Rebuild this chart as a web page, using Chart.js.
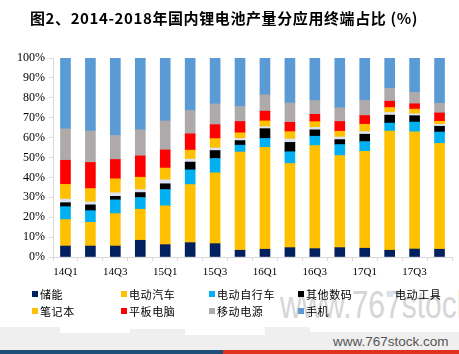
<!DOCTYPE html>
<html>
<head>
<meta charset="utf-8">
<script src="https://cdn.jsdelivr.net/npm/chart.js@4.4.0/dist/chart.umd.min.js"></script>
<style>
  html,body{margin:0;padding:0;background:#fff;}
  #wrap{position:relative;width:459px;height:354px;overflow:hidden;background:#fff;}
  #c{position:absolute;left:0;top:0;z-index:2;}
  #title{position:absolute;left:30px;top:7px;line-height:20px;font:bold 15px "Noto Sans CJK SC",sans-serif;letter-spacing:0.6px;color:#000;z-index:3;white-space:nowrap;}
  #legend{position:absolute;left:0;top:287px;z-index:3;}
  .li{position:absolute;font:11px "Noto Sans CJK SC",sans-serif;letter-spacing:0.6px;color:#000;white-space:nowrap;line-height:14px;}
  .li span.sq{position:absolute;left:0;top:4px;width:6px;height:6px;}
  .li span.tx{position:absolute;left:8px;top:0;}
  #wm{position:absolute;left:280px;top:285px;font:30px "Liberation Sans",Arial,sans-serif;line-height:30px;color:#d6d6d6;z-index:1;white-space:nowrap;transform:scaleY(1.3);transform-origin:0 0;}
  #sky{position:absolute;left:0;top:327px;width:459px;height:23px;z-index:0;}
  #sky div{position:absolute;background:#efefef;}
  #small{position:absolute;left:333px;top:334px;font:13.5px "Liberation Sans",Arial,sans-serif;line-height:16px;color:#555;z-index:1;white-space:nowrap;}
  #barL{position:absolute;left:0;top:350px;width:223px;height:4px;background:#1f4e79;z-index:4;}
  #barR{position:absolute;left:223px;top:350px;width:236px;height:4px;background:#e0301e;z-index:4;}
</style>
</head>
<body>
<div id="wrap">
  <div id="sky">
    <div style="left:0;top:0;width:60px;height:23px"></div>
    <div style="left:60px;top:6px;width:70px;height:17px"></div>
    <div style="left:130px;top:2px;width:55px;height:21px"></div>
    <div style="left:185px;top:8px;width:80px;height:15px"></div>
    <div style="left:265px;top:0;width:45px;height:23px"></div>
    <div style="left:310px;top:5px;width:149px;height:18px"></div>
  </div>
  <div id="wm">www.767stock</div>
  <div id="small">www.767stock.com</div>
  <canvas id="c" width="459" height="354"></canvas>
  <div id="title">图2、2014-2018年国内锂电池产量分应用终端占比 (%)</div>
  <div id="legend"></div>
  <div id="barL"></div>
  <div id="barR"></div>
</div>
<script>
const categories = ['14Q1','14Q2','14Q3','14Q4','15Q1','15Q2','15Q3','15Q4','16Q1','16Q2','16Q3','16Q4','17Q1','17Q2','17Q3','17Q4'];
const yTicks = [0,10,20,30,40,50,60,70,80,90,100];

const seriesNames = ['储能','电动汽车','电动自行车','其他数码','电动工具','笔记本','平板电脑','移动电源','手机'];
const seriesColors = ['#002060','#FFC000','#00B0F0','#000000','#DAE3F3','#FFC000','#FF0000','#AEAAAA','#5B9BD5'];

const chuneng    = [5.5,5.5,5.5,8.4,6.2,7.2,6.7,3.4,3.9,4.7,4.2,4.7,4.4,3.4,4.0,3.9];
const qiche      = [13.3,11.9,16.3,15.6,19.5,29.2,35.6,49.3,51.2,42.3,51.8,46.3,48.7,59.9,58.9,53.2];
const zixingche  = [6.5,5.9,6.9,5.9,8.2,7.4,7.2,3.5,4.5,5.9,4.7,5.5,4.9,4.0,4.9,5.7];
const qitashuma  = [2.0,2.9,1.8,2.5,2.9,3.9,4.0,2.3,4.9,4.7,3.2,2.5,3.7,4.0,3.2,2.9];
const gongju     = [1.8,1.5,1.8,1.5,2.0,1.5,1.3,1.0,1.0,1.7,1.2,1.3,1.3,1.3,1.0,1.0];
const bijiben    = [7.4,6.7,7.0,6.2,5.9,4.5,4.7,2.9,2.9,3.7,2.9,2.9,3.7,2.5,2.3,1.5];
const pingban    = [12.1,13.1,9.7,10.7,9.1,8.2,7.0,5.7,4.9,4.7,3.7,4.9,4.4,3.2,2.7,4.2];
const yidong     = [15.8,15.8,12.1,13.1,14.6,11.7,10.4,7.6,8.2,9.7,6.9,6.9,7.6,6.4,5.7,4.9];
const shouji     = [35.6,36.7,38.8,36.1,31.7,26.3,23.0,24.3,18.6,22.7,21.5,25.0,21.5,15.3,17.3,22.8];

const seriesData = [chuneng,qiche,zixingche,qitashuma,gongju,bijiben,pingban,yidong,shouji];

const datasets = seriesNames.map((n,i)=>({
  label:n, data:seriesData[i], backgroundColor:seriesColors[i],
  borderWidth:0, barThickness:10, stack:'s'
}));

new Chart(document.getElementById('c'),{
  type:'bar',
  data:{labels:categories,datasets},
  options:{
    responsive:false, animation:false,
    layout:{padding:{left:0,right:7,top:58,bottom:77}},
    plugins:{legend:{display:false},tooltip:{enabled:false},title:{display:false}},
    scales:{
      x:{
        stacked:true,
        grid:{display:true,drawOnChartArea:false,offset:true,tickLength:4,color:'#d9d9d9'},
        border:{color:'#d9d9d9'},
        ticks:{autoSkip:false,maxRotation:0,padding:5,color:'#000',
          font:{family:'"Liberation Serif","Times New Roman",serif',size:11},
          callback:function(v,i){return i%2===0?categories[i]:'';}},
        afterFit:function(s){s.height=20;}
      },
      y:{
        stacked:true,min:0,max:100,
        afterBuildTicks:function(s){s.ticks=yTicks.map(v=>({value:v}));},
        grid:{display:true,drawOnChartArea:false,tickLength:4,color:'#d9d9d9'},
        border:{color:'#d9d9d9'},
        ticks:{padding:4,color:'#000',
          font:{family:'"Liberation Serif","Times New Roman",serif',size:12},
          callback:function(v){return v+'%';}},
        afterFit:function(s){s.width=53;}
      }
    }
  }
});

// legend built from series arrays
const legend = document.getElementById('legend');
const colX = [32,121,209,298,387];
const rowY = [0,17];
seriesNames.forEach((n,i)=>{
  const r = i<5?0:1, c = i<5?i:i-5;
  const d = document.createElement('div');
  d.className='li';
  d.style.left=colX[c]+'px'; d.style.top=rowY[r]+'px';
  d.innerHTML='<span class="sq" style="background:'+seriesColors[i]+'"></span><span class="tx">'+n+'</span>';
  legend.appendChild(d);
});
</script>
</body>
</html>
